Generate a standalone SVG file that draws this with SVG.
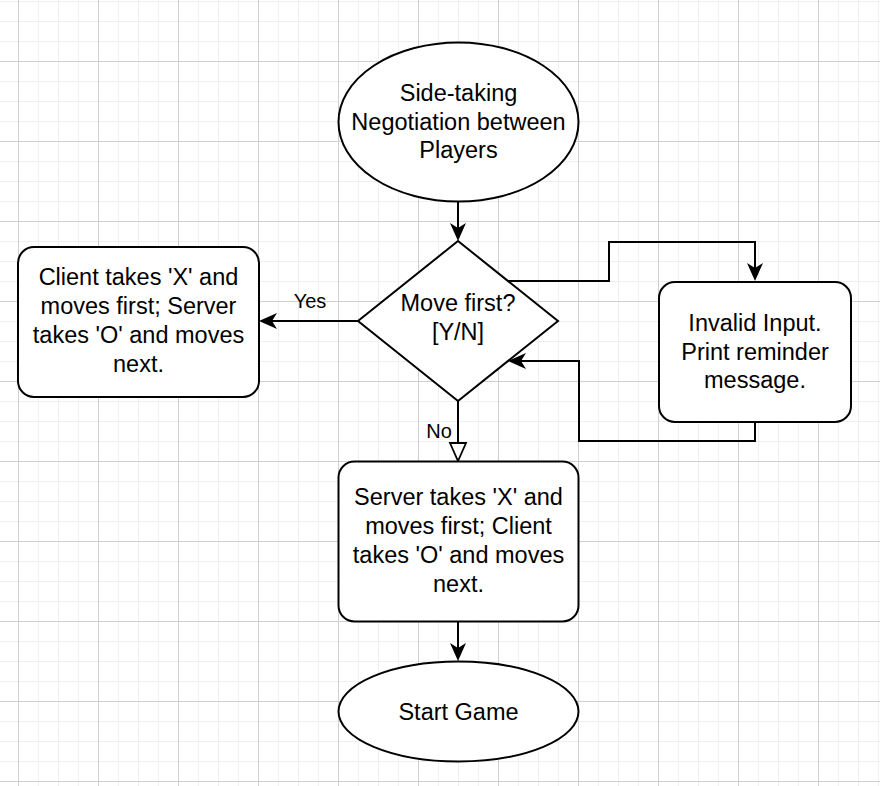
<svg xmlns="http://www.w3.org/2000/svg" width="880" height="786" viewBox="0 0 880 786">
<style>
.shape{fill:#fff;stroke:#000;stroke-width:2}
.edge{fill:none;stroke:#000;stroke-width:2}
.t{font-family:"Liberation Sans",Arial,Helvetica,sans-serif;font-size:23.5px;fill:#000;text-anchor:middle}
.lbl{font-family:"Liberation Sans",Arial,Helvetica,sans-serif;font-size:20px;fill:#000;text-anchor:middle}
</style>
<defs>
<pattern id="minor" patternUnits="userSpaceOnUse" x="18" y="1" width="20" height="20">
<rect x="0" y="0" width="1" height="20" fill="#efefef"/>
<rect x="0" y="0" width="20" height="1" fill="#efefef"/>
</pattern>
<pattern id="major" patternUnits="userSpaceOnUse" x="18" y="61" width="80" height="80">
<rect x="0" y="0" width="1" height="80" fill="#d0d0d0"/>
<rect x="0" y="0" width="80" height="1" fill="#d0d0d0"/>
</pattern>
<marker id="arrow" markerUnits="userSpaceOnUse" markerWidth="18" markerHeight="16" viewBox="0 0 18 16" refX="5" refY="8" orient="auto" overflow="visible">
<path d="M0,0 L18,8 L0,16 L5,8 Z" fill="#000"/>
</marker>
<marker id="hollow" markerUnits="userSpaceOnUse" markerWidth="18" markerHeight="16" viewBox="0 0 18 16" refX="0" refY="8" orient="auto" overflow="visible">
<path d="M0,0 L18,8 L0,16 Z" fill="#fff" stroke="#000" stroke-width="1.8" stroke-linejoin="miter"/>
</marker>
</defs>
<rect x="0" y="0" width="880" height="786" fill="#fff"/>
<rect x="0" y="0" width="880" height="786" fill="url(#minor)"/>
<rect x="0" y="0" width="880" height="786" fill="url(#major)"/>

<g id="connectors">
<path class="edge" d="M458,201 V228" marker-end="url(#arrow)"/>
<path class="edge" d="M358,321 H272" marker-end="url(#arrow)"/>
<path class="edge" d="M508,281 H609 V242 H755 V268" marker-end="url(#arrow)"/>
<path class="edge" d="M755,422 V441 H579 V361 H521" marker-end="url(#arrow)"/>
<path class="edge" d="M458,401 V443" marker-end="url(#hollow)"/>
<path class="edge" d="M458,621 V648" marker-end="url(#arrow)"/>
<text class="lbl" x="310" y="308">Yes</text>
<text class="lbl" x="439" y="438">No</text>
</g>

<g id="start">
<ellipse class="shape" cx="458.5" cy="122" rx="120" ry="79.5"/>
<text class="t" x="458.5" y="101">Side-taking</text>
<text class="t" x="458.5" y="130">Negotiation between</text>
<text class="t" x="458.5" y="158">Players</text>
</g>

<g id="decision">
<polygon class="shape" points="458,241 558,321 458,401 358,321"/>
<text class="t" x="458" y="311">Move first?</text>
<text class="t" x="458" y="340">[Y/N]</text>
</g>

<g id="client-first">
<rect class="shape" x="18" y="247" width="241" height="150" rx="16" ry="16"/>
<text class="t" x="138.5" y="285">Client takes 'X' and</text>
<text class="t" x="138.5" y="314">moves first; Server</text>
<text class="t" x="138.5" y="342.5">takes 'O' and moves</text>
<text class="t" x="138.5" y="371.5">next.</text>
</g>

<g id="invalid">
<rect class="shape" x="659" y="282" width="192" height="140" rx="16" ry="16"/>
<text class="t" x="755" y="331">Invalid Input.</text>
<text class="t" x="755" y="359.5">Print reminder</text>
<text class="t" x="755" y="388">message.</text>
</g>

<g id="server-first">
<rect class="shape" x="338.5" y="461.5" width="240" height="160" rx="16" ry="16"/>
<text class="t" x="458.5" y="505">Server takes 'X' and</text>
<text class="t" x="458.5" y="534">moves first; Client</text>
<text class="t" x="458.5" y="562.5">takes 'O' and moves</text>
<text class="t" x="458.5" y="591.5">next.</text>
</g>

<g id="start-game">
<ellipse class="shape" cx="458.5" cy="711.5" rx="120" ry="50"/>
<text class="t" x="458.5" y="720">Start Game</text>
</g>
</svg>
